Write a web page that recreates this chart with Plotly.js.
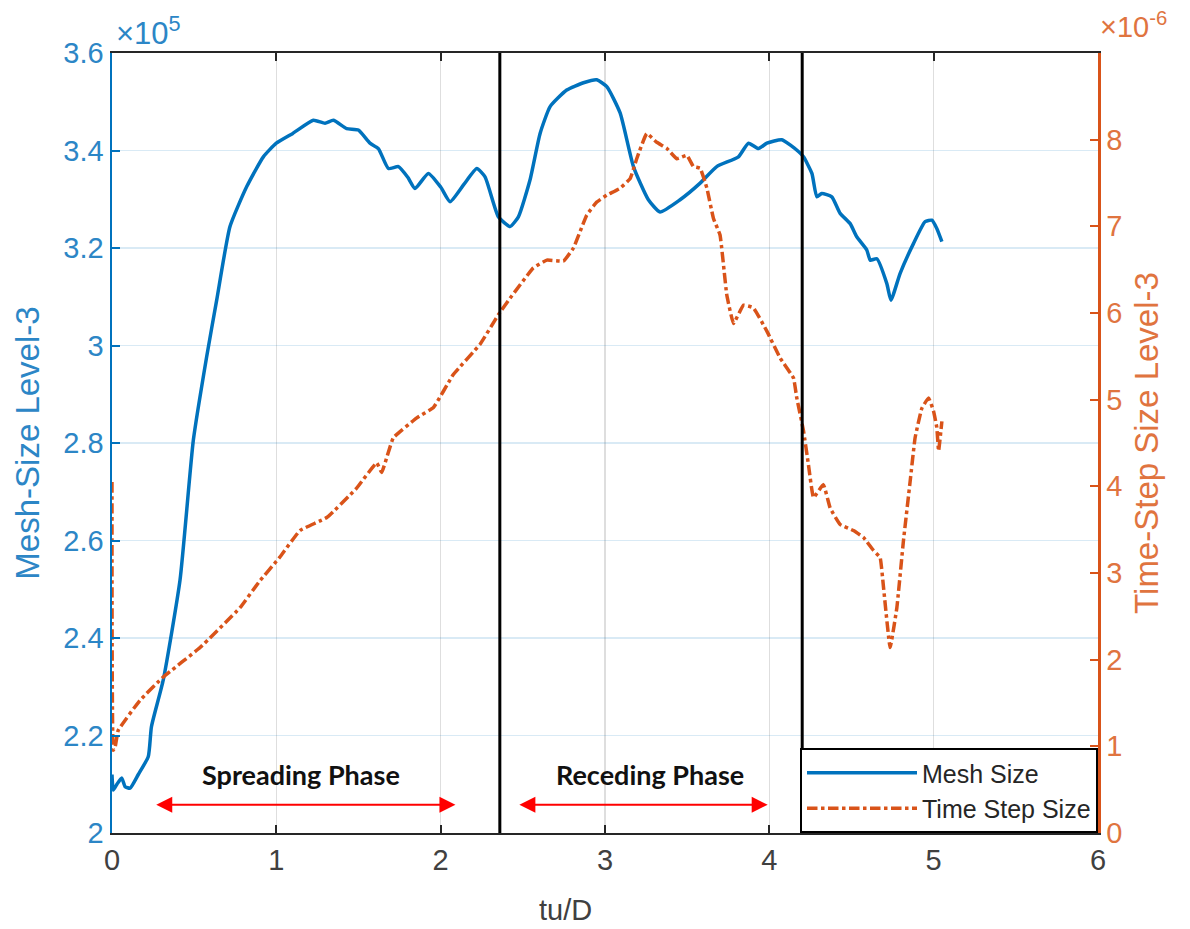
<!DOCTYPE html>
<html>
<head>
<meta charset="utf-8">
<script src="https://cdn.plot.ly/plotly-3.0.1.min.js"></script>
<style>html,body{margin:0;padding:0;background:#fff;}#chart{width:1190px;height:929px;}</style>
</head>
<body>
<div id="chart"></div>
<script>
// Mesh size (units of 1e5) vs tu/D
const meshT = [0.0, 0.008, 0.03, 0.059, 0.08, 0.11, 0.16, 0.221, 0.24, 0.312, 0.414, 0.495, 0.576, 0.637, 0.718, 0.82, 0.921, 1.0, 1.10, 1.225, 1.296, 1.347, 1.428, 1.499, 1.570, 1.621, 1.682, 1.743, 1.80, 1.844, 1.925, 2.0, 2.057, 2.14, 2.220, 2.270, 2.351, 2.422, 2.473, 2.544, 2.605, 2.666, 2.767, 2.869, 2.950, 3.011, 3.092, 3.173, 3.264, 3.335, 3.457, 3.579, 3.680, 3.812, 3.873, 3.934, 3.985, 4.076, 4.177, 4.208, 4.259, 4.289, 4.319, 4.380, 4.431, 4.492, 4.532, 4.593, 4.614, 4.654, 4.715, 4.740, 4.796, 4.877, 4.948, 4.989, 5.019, 5.050];
const meshSize = [2.12, 2.088, 2.10, 2.113, 2.095, 2.092, 2.12, 2.157, 2.218, 2.314, 2.519, 2.806, 2.977, 3.093, 3.244, 3.326, 3.387, 3.415, 3.435, 3.462, 3.456, 3.462, 3.445, 3.442, 3.415, 3.404, 3.363, 3.367, 3.345, 3.322, 3.353, 3.325, 3.295, 3.33, 3.363, 3.346, 3.264, 3.244, 3.264, 3.340, 3.435, 3.490, 3.524, 3.539, 3.545, 3.531, 3.477, 3.367, 3.299, 3.274, 3.299, 3.333, 3.367, 3.387, 3.415, 3.404, 3.415, 3.422, 3.398, 3.387, 3.353, 3.305, 3.312, 3.305, 3.271, 3.250, 3.223, 3.196, 3.175, 3.178, 3.127, 3.093, 3.148, 3.209, 3.254, 3.257, 3.240, 3.213];

// Time step size (units of 1e-6) vs tu/D
const stepT = [0.0, 0.008, 0.02, 0.038, 0.17, 0.312, 0.536, 0.779, 0.90, 1.02, 1.144, 1.307, 1.489, 1.611, 1.641, 1.712, 1.855, 1.956, 2.077, 2.24, 2.351, 2.422, 2.564, 2.646, 2.747, 2.808, 2.889, 2.950, 3.011, 3.092, 3.153, 3.193, 3.254, 3.315, 3.376, 3.437, 3.498, 3.538, 3.579, 3.620, 3.660, 3.700, 3.741, 3.782, 3.843, 3.903, 3.985, 4.066, 4.147, 4.167, 4.208, 4.238, 4.269, 4.329, 4.370, 4.431, 4.512, 4.573, 4.634, 4.674, 4.695, 4.735, 4.776, 4.816, 4.857, 4.887, 4.928, 4.969, 4.999, 5.019, 5.03, 5.05];
const stepSize = [4.05, 0.955, 1.0, 1.185, 1.53, 1.80, 2.14, 2.60, 2.91, 3.18, 3.49, 3.64, 3.98, 4.27, 4.16, 4.56, 4.79, 4.91, 5.29, 5.64, 5.98, 6.17, 6.52, 6.61, 6.60, 6.75, 7.13, 7.28, 7.36, 7.44, 7.55, 7.78, 8.07, 7.97, 7.90, 7.78, 7.82, 7.69, 7.67, 7.44, 7.09, 6.90, 6.21, 5.88, 6.09, 6.06, 5.79, 5.48, 5.25, 5.02, 4.64, 4.25, 3.87, 4.02, 3.75, 3.56, 3.49, 3.41, 3.26, 3.18, 2.83, 2.14, 2.60, 3.37, 4.06, 4.56, 4.90, 5.02, 4.87, 4.68, 4.41, 4.75];

const phaseBounds = [2.36, 4.2];
const phaseNames = ["Spreading Phase", "Receding Phase"];
const phaseArrowX = [[0.26, 2.09], [2.47, 3.99]];
const phaseTextX = [1.153, 3.275];

const leftTicks = [2, 2.2, 2.4, 2.6, 2.8, 3, 3.2, 3.4, 3.6];
const rightTicks = [0, 1, 2, 3, 4, 5, 6, 7, 8];

const BLUE = '#0072BD', ORANGE = '#D95319';
const BLUE_TXT = '#2C86C6', ORANGE_TXT = '#E0743F';
const FONT = 'Liberation Sans, Arial, sans-serif';

const traces = [
  {x: meshT, y: meshSize, type: 'scatter', mode: 'lines', name: 'Mesh Size',
   line: {color: BLUE, width: 3.5, shape: 'spline', smoothing: 0.5}, yaxis: 'y'},
  {x: stepT, y: stepSize, type: 'scatter', mode: 'lines', name: 'Time Step Size',
   line: {color: ORANGE, width: 3.5, dash: 'dashdot', shape: 'spline', smoothing: 0.3}, yaxis: 'y2'}
];

const shapes = phaseBounds.map(b => ({type: 'line', xref: 'x', yref: 'paper', x0: b, x1: b, y0: 0, y1: 1,
  line: {color: '#000', width: 3}}));

const annotations = [];
phaseNames.forEach((n, i) => {
  annotations.push({x: phaseTextX[i], y: 2.119, xref: 'x', yref: 'y', text: '<b>' + n + '</b>', showarrow: false,
    font: {family: 'Lato, Calibri, sans-serif', size: 27, color: '#111'}});
  annotations.push({x: phaseArrowX[i][1], y: 2.058, ax: phaseArrowX[i][0], ay: 2.058, xref: 'x', yref: 'y',
    axref: 'x', ayref: 'y', text: '', showarrow: true, arrowhead: 2, arrowside: 'end+start',
    arrowsize: 1.6, arrowwidth: 2, arrowcolor: '#FF0000', standoff: 0, startstandoff: 0});
});
annotations.push({xref: 'paper', yref: 'paper', x: 0.002, y: 1.0, xanchor: 'left', yanchor: 'bottom',
  text: '×10<sup>5</sup>', showarrow: false, font: {family: FONT, size: 31, color: BLUE_TXT}});
annotations.push({xref: 'paper', yref: 'paper', x: 1.0, y: 1.01, xanchor: 'left', yanchor: 'bottom',
  text: '×10<sup>-6</sup>', showarrow: false, font: {family: FONT, size: 29, color: ORANGE_TXT}});
annotations.push({xref: 'paper', yref: 'paper', x: 0.4604, y: -0.099, xanchor: 'center', yanchor: 'middle',
  text: 'tu/D', showarrow: false, font: {family: FONT, size: 29, color: '#404040'}});

const layout = {
  width: 1190, height: 929,
  margin: {l: 112, r: 92, t: 53, b: 96},
  paper_bgcolor: '#fff', plot_bgcolor: '#fff',
  font: {family: FONT},
  showlegend: true,
  legend: {x: 1, xanchor: 'right', y: 0, yanchor: 'bottom', bgcolor: '#fff', bordercolor: '#000', borderwidth: 2,
    font: {family: FONT, size: 25, color: '#262626'}, tracegroupgap: 0, itemwidth: 110},
  xaxis: {range: [0, 6], dtick: 1, tick0: 0, showgrid: true, gridcolor: 'rgba(0,0,0,0.13)', gridwidth: 1.5,
    zeroline: false, showline: true, linecolor: '#262626', linewidth: 2, mirror: 'ticks',
    ticks: 'inside', ticklen: 8, tickcolor: '#262626', tickwidth: 2,
    tickfont: {family: FONT, size: 29, color: '#404040'}},
  yaxis: {range: [2, 3.6], tickvals: leftTicks, showgrid: true, gridcolor: 'rgba(0,114,189,0.15)', gridwidth: 1.5,
    zeroline: false, showline: true, linecolor: BLUE, linewidth: 2.5,
    ticks: 'inside', ticklen: 8, tickcolor: BLUE, tickwidth: 2,
    tickfont: {family: FONT, size: 29, color: BLUE_TXT},
    title: {text: 'Mesh-Size Level-3', font: {family: FONT, size: 33, color: BLUE_TXT}, standoff: 14}},
  yaxis2: {range: [0, 9], tickvals: rightTicks, overlaying: 'y', side: 'right', showgrid: false,
    zeroline: false, showline: true, linecolor: ORANGE, linewidth: 2.5,
    ticks: 'inside', ticklen: 8, tickcolor: ORANGE, tickwidth: 2,
    tickfont: {family: FONT, size: 29, color: ORANGE_TXT},
    title: {text: 'Time-Step Size Level-3', font: {family: FONT, size: 33, color: ORANGE_TXT}, standoff: 14}},
  shapes: shapes,
  annotations: annotations
};

Plotly.newPlot('chart', traces, layout, {staticPlot: true, displayModeBar: false});
</script>
</body>
</html>
